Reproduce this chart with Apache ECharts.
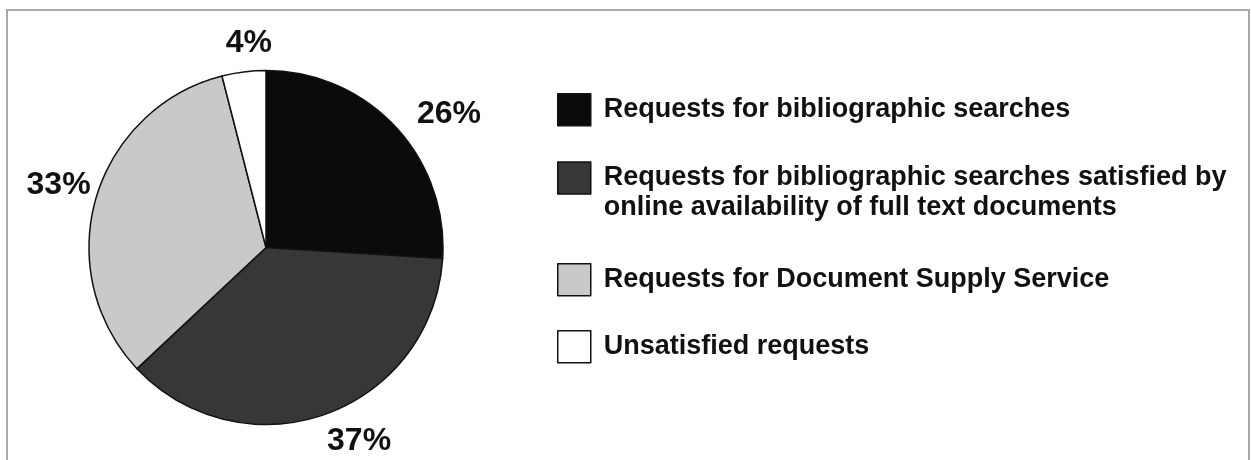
<!DOCTYPE html>
<html>
<head>
<meta charset="utf-8">
<title>Requests breakdown</title>
<script src="https://cdn.jsdelivr.net/npm/echarts@6/dist/echarts.min.js"></script>
<style>
  html, body { margin: 0; padding: 0; background: #ffffff; }
  #chart { width: 1251px; height: 460px; }
</style>
</head>
<body>
<div id="chart"></div>
<script>
// Categories of requests and their share of the total (percent)
const categories = [
  'Requests for bibliographic searches',
  'Requests for bibliographic searches satisfied by\nonline availability of full text documents',
  'Requests for Document Supply Service',
  'Unsatisfied requests'
];
const shares = [26, 37, 33, 4];

// Slice fills (greyscale)
const palette = ['#0b0b0b', '#373737', '#c9c9c9', '#ffffff'];

// Small nudges of the percent labels away from their default outside spot
const labelNudgeX = [11, -4, 9, 30];
const labelNudgeY = [-2, 13, -9, -14];

const FONT = '"Liberation Sans", Arial, sans-serif';
const INK = '#111111';

const chart = echarts.init(document.getElementById('chart'), null, { renderer: 'canvas' });

// One legend block per category so the swatch lines up with the first text line.
// A wrapped name gets an empty leading line, which keeps its first line level with the swatch.
const legendTops = [93, 133, 263, 330];
const legends = categories.map((name, i) => ({
  orient: 'vertical',
  left: 557,
  top: legendTops[i],
  padding: 0,
  itemWidth: 33,
  itemHeight: 32,
  icon: 'rect',
  selectedMode: false,
  data: [name],
  formatter: (n) => (n.indexOf('\n') >= 0 ? '\n' + n : n),
  itemStyle: { borderColor: INK, borderWidth: 1.5 },
  textStyle: {
    fontFamily: FONT,
    fontWeight: 'bold',
    fontSize: 27,
    lineHeight: 30,
    color: INK,
    padding: [0, 0, 0, 8]
  }
}));

chart.setOption({
  backgroundColor: '#ffffff',
  animation: false,
  graphic: [{
    type: 'rect',
    silent: true,
    shape: { x: 7, y: 10, width: 1242, height: 470 },
    style: { fill: 'none', stroke: '#a9a9a9', lineWidth: 2 }
  }],
  legend: legends,
  series: [{
    type: 'pie',
    center: [266, 247.5],
    radius: 177,
    startAngle: 90,
    clockwise: true,
    avoidLabelOverlap: false,
    itemStyle: { borderColor: INK, borderWidth: 1.5 },
    label: {
      show: true,
      position: 'outside',
      formatter: '{c}%',
      fontFamily: FONT,
      fontWeight: 'bold',
      fontSize: 32,
      color: INK,
      distanceToLabelLine: 0
    },
    labelLine: { show: false, length: 15, length2: 0 },
    labelLayout: function (params) {
      return { dx: labelNudgeX[params.dataIndex], dy: labelNudgeY[params.dataIndex] };
    },
    emphasis: { disabled: true },
    data: categories.map((name, i) => ({
      name: name,
      value: shares[i],
      itemStyle: { color: palette[i] }
    }))
  }]
});
</script>
</body>
</html>
